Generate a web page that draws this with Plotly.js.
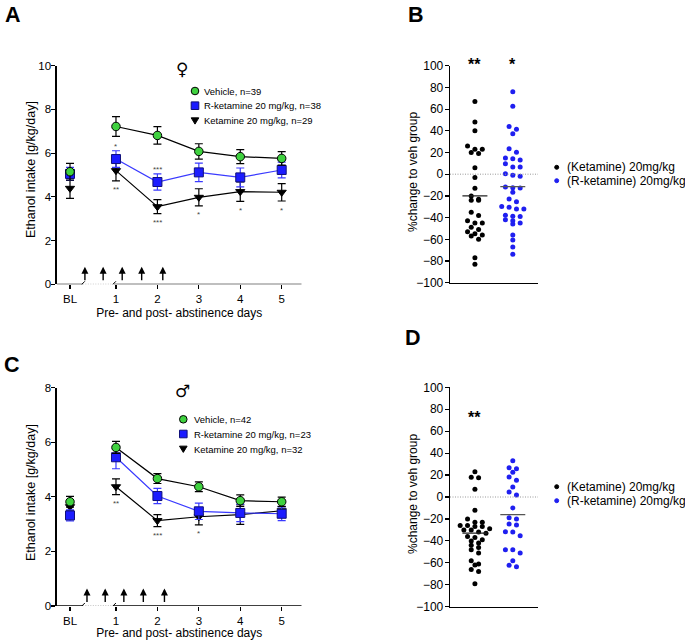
<!DOCTYPE html>
<html><head><meta charset="utf-8">
<script src="https://cdn.plot.ly/plotly-3.0.1.min.js"></script>
<style>html,body{margin:0;padding:0;background:#fff}</style>
</head><body><div id="chart" style="width:685px;height:640px"></div>
<script>
// ---------------- data ----------------
const dayLabels = ['BL', '1', '2', '3', '4', '5'];
const days = [1, 2, 3, 4, 5];
const blPos = -0.11;

// Female (panel A)
const vehF = [7.22, 6.81, 6.08, 5.84, 5.76];
const vehF_se = [0.45, 0.40, 0.35, 0.32, 0.31];
const vehF_BL = [5.15], vehF_BLse = [0.38];
const rketF = [5.73, 4.68, 5.12, 4.89, 5.23];
const rketF_se = [0.38, 0.37, 0.42, 0.43, 0.36];
const rketF_BL = [5.05], rketF_BLse = [0.30];
const ketF = [5.20, 3.55, 3.98, 4.24, 4.21];
const ketF_se = [0.47, 0.32, 0.39, 0.45, 0.40];
const ketF_BL = [4.39], ketF_BLse = [0.46];
const sigKetF = ['**', '***', '*', '*', '*'];
const sigRketF = ['*', '***', '', '', ''];
const arrowsF = [0.25, 0.69, 1.15, 1.62, 2.13];
const legendF = ['Vehicle, n=39', 'R-ketamine 20 mg/kg, n=38', 'Ketamine 20 mg/kg, n=29'];

// Male (panel C)
const vehM = [5.81, 4.67, 4.37, 3.86, 3.82];
const vehM_se = [0.22, 0.18, 0.18, 0.21, 0.17];
const vehM_BL = [3.82], vehM_BLse = [0.20];
const rketM = [5.45, 4.03, 3.47, 3.41, 3.38];
const rketM_se = [0.42, 0.28, 0.30, 0.32, 0.25];
const rketM_BL = [3.32], rketM_BLse = [0.20];
const ketM = [4.37, 3.13, 3.27, 3.35, 3.49];
const ketM_se = [0.29, 0.22, 0.30, 0.36, 0.15];
const ketM_BL = [3.64], ketM_BLse = [0.15];
const sigKetM = ['**', '***', '*', '', ''];
const sigRketM = ['', '', '', '', ''];
const arrowsM = [0.30, 0.74, 1.19, 1.66, 2.17];
const legendM = ['Vehicle, n=42', 'R-ketamine 20 mg/kg, n=23', 'Ketamine 20 mg/kg, n=32'];

// Panel B: % change to vehicle group (female)
const ketB = [67, 48, 40, 26, 23, 23, 20, 19, 6, -3, -13, -20, -23, -24, -24, -35, -38, -43, -45, -45,
              -49, -51, -53, -55, -56, -57, -60, -77, -83];
const rketB = [76, 62.6, 44, 41.4, 37.3, 23.5, 20.2, 15, 14.3, 13.1, 9.7, 6.6, 6.6, 0.5, -1, -2,
               -11.8, -12.4, -12.7, -16.7, -22.8, -25.5, -29.8, -30.4, -32, -32, -37.9, -38.8, -39,
               -42, -43, -45, -45.8, -56.1, -60.6, -67, -73.8];
const meanB = [-20, -11.5];
const sigB = ['**', '*'];
const sigB_y = [105.3, 105.3];

// Panel D: % change to vehicle group (male)
const ketD = [23, 18, 17.5, 7, -12, -20, -23, -23, -26, -27, -27, -26, -29, -30, -30, -33, -32,
              -37, -36, -40, -39, -44, -42, -48, -46, -51, -58, -61, -62, -66, -68, -79];
const rketD = [33.1, 26.7, 25.8, 22.5, 18.2, 15.2, 9.1, 4.6, 1.8, -10, -18.9, -20, -24.6, -25.5,
               -31.7, -31.9, -35.3, -48, -48, -51, -58, -62.3, -63.5];
const meanD = [-33, -16];
const sigD = ['**', ''];
const sigD_y = [76.6, 76.6];
const groupLabels = ['(Ketamine) 20mg/kg', '(R-ketamine) 20mg/kg'];

// ---------------- styling helpers ----------------
const W = 685, H = 640;
const px = x => x / W;
const py = y => 1 - y / H;
const FONT = 'Liberation Sans, Arial, sans-serif';
const GREEN = '#3fd13f', BLUE = '#1c1cff', BLUE_LINE = '#3a3aff';

const traces = [];
function lineGroup(xa, ya, vals, se, bl, blse, color, lineColor, errColor, symbol, size, outline) {
  traces.push({
    x: days, y: vals, xaxis: xa, yaxis: ya, type: 'scatter', mode: 'lines+markers',
    line: {color: lineColor, width: 1.2},
    marker: {symbol: symbol, size: size, color: color, line: {color: outline, width: 1}},
    error_y: {type: 'data', array: se, color: errColor, thickness: 1.2, width: 4},
    cliponaxis: false, showlegend: false
  });
  traces.push({
    x: [blPos], y: bl, xaxis: xa, yaxis: ya, type: 'scatter', mode: 'markers',
    marker: {symbol: symbol, size: size, color: color, line: {color: outline, width: 1}},
    error_y: {type: 'data', array: blse, color: errColor, thickness: 1.2, width: 4},
    cliponaxis: false, showlegend: false
  });
}
// panel A (draw order: ketamine, R-ketamine, vehicle)
lineGroup('x', 'y', ketF, ketF_se, ketF_BL, ketF_BLse, '#000', '#000', '#000', 'triangle-down', 8, '#000');
lineGroup('x', 'y', rketF, rketF_se, rketF_BL, rketF_BLse, BLUE, BLUE_LINE, BLUE_LINE, 'square', 9, '#10107a');
lineGroup('x', 'y', vehF, vehF_se, vehF_BL, vehF_BLse, GREEN, '#000', '#000', 'circle', 8.5, '#000');
// panel C
lineGroup('x3', 'y3', ketM, ketM_se, ketM_BL, ketM_BLse, '#000', '#000', '#000', 'triangle-down', 8, '#000');
lineGroup('x3', 'y3', rketM, rketM_se, rketM_BL, rketM_BLse, BLUE, BLUE_LINE, BLUE_LINE, 'square', 9, '#10107a');
lineGroup('x3', 'y3', vehM, vehM_se, vehM_BL, vehM_BLse, GREEN, '#000', '#000', 'circle', 8.5, '#000');

// beeswarm layout (GraphPad-like rows)
function swarm(vals, center, pxPerY, pxPerX, rowPx, sepPx) {
  const idx = vals.map((v, i) => i).sort((a, b) => vals[b] - vals[a]);
  const xs = new Array(vals.length);
  let i = 0;
  while (i < idx.length) {
    const start = vals[idx[i]];
    let j = i;
    while (j < idx.length && (start - vals[idx[j]]) * pxPerY < rowPx) j++;
    const n = j - i;
    for (let k = 0; k < n; k++) xs[idx[i + k]] = center + (k - (n - 1) / 2) * sepPx / pxPerX;
    i = j;
  }
  return xs;
}
const colPx = 38;
function dotPanel(xa, ya, kv, rv, means, pxPerY) {
  traces.push({x: swarm(kv, 1, pxPerY, colPx, 4, 7.4), y: kv, xaxis: xa, yaxis: ya, type: 'scatter',
    mode: 'markers', marker: {size: 5, color: '#000'}, cliponaxis: false, showlegend: false});
  traces.push({x: swarm(rv, 2, pxPerY, colPx, 4, 7.4), y: rv, xaxis: xa, yaxis: ya, type: 'scatter',
    mode: 'markers', marker: {size: 5, color: '#1f1ff0'}, cliponaxis: false, showlegend: false});
  [0, 1].forEach(g => traces.push({x: [g + 1 - 0.33, g + 1 + 0.33], y: [means[g], means[g]],
    xaxis: xa, yaxis: ya, type: 'scatter', mode: 'lines',
    line: {color: g === 0 ? '#222' : '#555', width: 1.3}, showlegend: false}));
}
dotPanel('x2', 'y2', ketB, rketB, meanB, 217 / 200);
dotPanel('x4', 'y4', ketD, rketD, meanD, 219.4 / 200);

// ---------------- layout ----------------
const xDomLine = [px(56.7), px(301.7)];
const xRange = [-0.431, 5.483];
const xDomDot = [px(450), px(538)];
const xRangeDot = [1 - 25 / colPx, 2 + 25.3 / colPx];
const tickFont = {family: FONT, size: 11.5, color: '#000'};
const titleFont = {family: FONT, size: 12, color: '#000'};

function lineX(dom, anchor) {
  return {domain: dom, anchor: anchor, range: xRange, tickvals: [blPos].concat(days), ticktext: dayLabels,
    ticks: 'outside', ticklen: 4, tickwidth: 1.2, tickcolor: '#000', showline: false, zeroline: false,
    showgrid: false, tickfont: tickFont,
    title: {text: 'Pre- and post- abstinence days', font: titleFont, standoff: 4}};
}
function lineY(dom, anchor, top) {
  return {domain: dom, anchor: anchor, range: [0, top], dtick: 2, ticks: 'outside', ticklen: 4,
    tickwidth: 1.2, tickcolor: '#000', showline: true, linewidth: 1.3, linecolor: '#000',
    zeroline: false, showgrid: false, tickfont: tickFont, ticklabelstandoff: -2};
}
function dotX(anchor) {
  return {domain: xDomDot, anchor: anchor, range: xRangeDot, showline: true, linewidth: 1.3, linecolor: '#000',
    ticks: '', showticklabels: false, zeroline: false, showgrid: false};
}
function dotY(dom, anchor) {
  return {domain: dom, anchor: anchor, range: [-100, 100], dtick: 20, ticks: 'outside', ticklen: 4,
    tickwidth: 1.2, tickcolor: '#000', showline: true, linewidth: 1.3, linecolor: '#000',
    zeroline: false, showgrid: false, tickfont: {family: FONT, size: 12, color: '#000'}, ticklabelstandoff: -1};
}

const shapes = [], annotations = [];
// y-axis titles (placed as rotated text beside each axis)
[['Ethanol intake [g/kg/day]', 31, 170, 12.5], ['Ethanol intake [g/kg/day]', 31, 493, 12.5],
 ['%change to veh group', 413, 172, 12], ['%change to veh group', 413, 494, 12]].forEach(t => annotations.push({
  text: t[0], x: px(t[1]), y: py(t[2]), xref: 'paper', yref: 'paper', textangle: -90,
  xanchor: 'center', yanchor: 'middle', showarrow: false, font: {family: FONT, size: t[3], color: '#000'}}));

const breakStart = 0.2, breakEnd = 0.95;
function axisBreak(xr, yr) {
  shapes.push({type: 'line', xref: xr, yref: yr, x0: xRange[0], x1: breakStart, y0: 0, y1: 0, line: {color: '#000', width: 1.3}});
  shapes.push({type: 'line', xref: xr, yref: yr, x0: breakStart, x1: breakEnd, y0: 0, y1: 0, line: {color: '#888', width: 1, dash: '1px,1.5px'}});
  shapes.push({type: 'line', xref: xr, yref: yr, x0: breakEnd, x1: xRange[1], y0: 0, y1: 0, line: {color: '#000', width: 1.3}});
  [breakStart, breakEnd].forEach(b => shapes.push({type: 'line', xref: xr, yref: yr,
    xsizemode: 'pixel', xanchor: b, x0: -2, x1: 2, ysizemode: 'pixel', yanchor: 0, y0: -1, y1: 3,
    line: {color: '#000', width: 1}}));
}
axisBreak('x', 'y');
axisBreak('x3', 'y3');

function arrows(list, xr, yr) {
  list.forEach(a => annotations.push({x: a, y: 0.08, xref: xr, yref: yr + ' domain', text: '',
    showarrow: true, ax: 0, ay: 15, arrowhead: 2, arrowsize: 1, arrowwidth: 1.4, arrowcolor: '#000'}));
}
arrows(arrowsF, 'x', 'y');
arrows(arrowsM, 'x3', 'y3');

function stars(sigBelow, below, belowSe, sigAbove, above, aboveSe, xr, yr) {
  days.forEach((d, i) => {
    if (sigBelow[i]) annotations.push({x: d, y: below[i] - belowSe[i], xref: xr, yref: yr, text: sigBelow[i],
      showarrow: false, yanchor: 'middle', yshift: -9, font: {family: FONT, size: 8, color: '#444'}});
    if (sigAbove[i]) annotations.push({x: d, y: above[i] + aboveSe[i], xref: xr, yref: yr, text: sigAbove[i],
      showarrow: false, yanchor: 'middle', yshift: 4, font: {family: FONT, size: 8, color: '#444'}});
  });
}
stars(sigKetF, ketF, ketF_se, sigRketF, rketF, rketF_se, 'x', 'y');
stars(sigKetM, ketM, ketM_se, sigRketM, rketM, rketM_se, 'x3', 'y3');

// zero reference lines in dot panels
['2', '4'].forEach(n => shapes.push({type: 'line', xref: 'x' + n + ' domain', yref: 'y' + n, x0: 0, x1: 1, y0: 0, y1: 0,
  line: {color: '#999', width: 1, dash: '1px,1.5px'}}));
// significance above dot columns (domain reference so the marks can sit above the axis top)
function sigTop(sig, ys, n) {
  sig.forEach((s, i) => s && annotations.push({x: i + 1, y: (ys[i] + 100) / 200, xref: 'x' + n, yref: 'y' + n + ' domain',
    text: s, showarrow: false, yanchor: 'middle', yshift: -4.5, font: {family: FONT, size: 16, color: '#000', weight: 'bold'}}));
}
sigTop(sigB, sigB_y, '2');
sigTop(sigD, sigD_y, '4');

// manual legends
function legSym(sym, xm, y, r, fill, outline) {
  if (sym === 'circle') shapes.push({type: 'circle', xref: 'paper', yref: 'paper', x0: px(xm - r), x1: px(xm + r),
    y0: py(y + r), y1: py(y - r), fillcolor: fill, line: {color: outline, width: 1}});
  else if (sym === 'square') shapes.push({type: 'rect', xref: 'paper', yref: 'paper', x0: px(xm - r), x1: px(xm + r),
    y0: py(y + r), y1: py(y - r), fillcolor: fill, line: {color: outline, width: 1}});
  else shapes.push({type: 'path', xref: 'paper', yref: 'paper',
    path: `M ${px(xm - r)},${py(y - r * 0.75)} L ${px(xm + r)},${py(y - r * 0.75)} L ${px(xm)},${py(y + r * 0.9)} Z`,
    fillcolor: fill, line: {color: outline, width: 1}});
}
function legText(t, x, y, size) {
  annotations.push({text: t, x: px(x), y: py(y), xref: 'paper', yref: 'paper', xanchor: 'left', yanchor: 'middle',
    showarrow: false, font: {family: FONT, size: size, color: '#000'}});
}
const legSyms = [['circle', GREEN, '#000'], ['square', BLUE, '#10107a'], ['triangle', '#000', '#000']];
function lineLegend(labels, xm, xt, rows) {
  labels.forEach((t, i) => { legSym(legSyms[i][0], xm, rows[i], 3.8, legSyms[i][1], legSyms[i][2]); legText(t, xt, rows[i], 9.5); });
}
lineLegend(legendF, 195, 202, [91, 105.7, 120.7]);
lineLegend(legendM, 183.3, 192, [419.3, 434, 449]);
function dotLegend(rows) {
  legSym('circle', 556.7, rows[0], 2, '#000', '#000'); legText(groupLabels[0], 565, rows[0], 12);
  legSym('circle', 556.7, rows[1], 2, '#1f1ff0', '#1f1ff0'); legText(groupLabels[1], 565, rows[1], 12);
}
dotLegend([167.3, 180.7]);
dotLegend([486.7, 500.7]);

// panel letters and sex symbols
[['A', 13, 15], ['B', 416, 15], ['C', 12.5, 364.5], ['D', 413, 338]].forEach(p => annotations.push({
  text: p[0], x: px(p[1]), y: py(p[2]), xref: 'paper', yref: 'paper', xanchor: 'center', yanchor: 'middle',
  showarrow: false, font: {family: FONT, size: 21.5, color: '#000', weight: 'bold'}}));
[['♀', 181.7, 69], ['♂', 182, 391]].forEach(p => annotations.push({
  text: p[0], x: px(p[1]), y: py(p[2]), xref: 'paper', yref: 'paper', xanchor: 'center', yanchor: 'middle',
  showarrow: false, font: {family: 'DejaVu Sans, sans-serif', size: 17, color: '#000', weight: 'bold'}}));

const layout = {
  width: W, height: H, margin: {l: 0, r: 0, t: 0, b: 0}, paper_bgcolor: '#fff', plot_bgcolor: '#fff',
  showlegend: false, font: {family: FONT, color: '#000'},
  xaxis: lineX(xDomLine, 'y'), yaxis: lineY([py(284.3), py(65.7)], 'x', 10),
  xaxis3: lineX(xDomLine, 'y3'), yaxis3: lineY([py(606), py(387.7)], 'x3', 8),
  xaxis2: dotX('y2'), yaxis2: dotY([py(282.7), py(65.7)], 'x2'),
  xaxis4: dotX('y4'), yaxis4: dotY([py(606.7), py(387.3)], 'x4'),
  shapes: shapes, annotations: annotations
};
Plotly.newPlot('chart', traces, layout, {displayModeBar: false, staticPlot: true});
</script></body></html>
